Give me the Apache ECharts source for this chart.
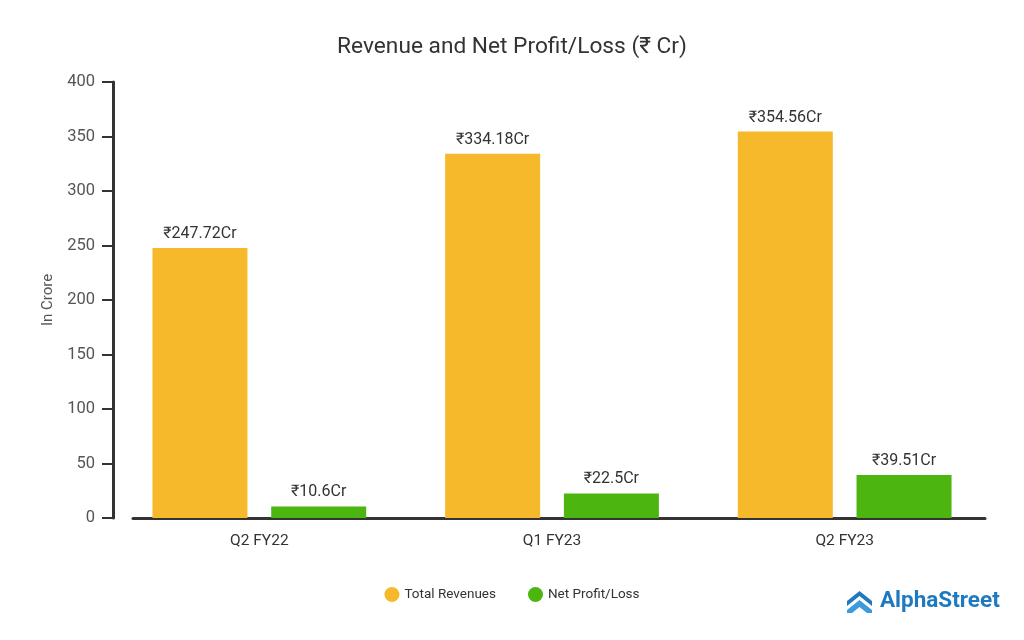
<!DOCTYPE html>
<html>
<head>
<meta charset="utf-8">
<script src="https://cdn.jsdelivr.net/npm/echarts@6/dist/echarts.min.js"></script>
<style>
html,body{margin:0;padding:0;background:#fff;}
#chart{width:1024px;height:640px;}
</style>
</head>
<body>
<div id="chart"></div>
<script>
const categories = ['Q2 FY22', 'Q1 FY23', 'Q2 FY23'];
const totalRevenues = [247.72, 334.18, 354.56];
const netProfit = [10.6, 22.5, 39.51];
const yTicks = { min: 0, max: 400, interval: 50 };
const titleText = 'Revenue and Net Profit/Loss (₹ Cr)';
const seriesNames = ['Total Revenues', 'Net Profit/Loss'];

const FONT = 'Roboto, "Noto Sans", "DejaVu Sans", sans-serif';
const chart = echarts.init(document.getElementById('chart'));

const labelCfg = {
  show: true,
  position: 'top',
  distance: 6,
  color: '#333',
  fontSize: 16,
  fontFamily: FONT,
  formatter: p => '₹' + p.value + 'Cr'
};

chart.setOption({
  backgroundColor: '#ffffff',
  animation: false,
  title: {
    text: titleText,
    left: 'center',
    top: 31,
    textStyle: { fontSize: 22.7, fontWeight: 'normal', color: '#333', fontFamily: FONT }
  },
  legend: {
    data: seriesNames,
    left: 'center',
    top: 582,
    icon: 'circle',
    itemWidth: 15,
    itemHeight: 15,
    itemGap: 32,
    textStyle: { fontSize: 13.5, color: '#333', fontFamily: FONT }
  },
  grid: [
    { left: 113, right: 33, top: 82, bottom: 122 },
    { left: 133, right: 39, top: 82, bottom: 122 }
  ],
  xAxis: [
    {
      type: 'category', gridIndex: 0, data: categories,
      axisLine: { show: false }, axisTick: { show: false },
      axisLabel: { color: '#333', fontSize: 15.5, fontFamily: FONT, margin: 15 }
    },
    {
      type: 'category', gridIndex: 1, data: categories,
      axisLine: { show: true, lineStyle: { color: '#333', width: 3 } },
      axisTick: { show: false }, axisLabel: { show: false }
    }
  ],
  yAxis: [
    {
      type: 'value', gridIndex: 0, min: yTicks.min, max: yTicks.max, interval: yTicks.interval,
      name: 'In Crore', nameLocation: 'middle', nameGap: 57, nameRotate: 90,
      nameTextStyle: { color: '#555', fontSize: 15, fontFamily: FONT },
      axisLine: { show: true, lineStyle: { color: '#333', width: 3 } },
      axisTick: { show: true, inside: false, length: 11, lineStyle: { color: '#333', width: 2 } },
      axisLabel: { color: '#555', fontSize: 16.5, fontFamily: FONT, margin: 18 },
      splitLine: { show: false }
    },
    {
      type: 'value', gridIndex: 1, min: yTicks.min, max: yTicks.max, show: false
    }
  ],
  series: [
    {
      name: seriesNames[0], type: 'bar', xAxisIndex: 0, yAxisIndex: 0,
      data: totalRevenues, barWidth: 95, barGap: '25%',
      itemStyle: { color: '#F6B92B' }, label: labelCfg
    },
    {
      name: seriesNames[1], type: 'bar', xAxisIndex: 0, yAxisIndex: 0,
      data: netProfit, barWidth: 95, barGap: '25%',
      itemStyle: { color: '#4CB50F' }, label: labelCfg
    }
  ],
  graphic: [
    {
      type: 'group', left: 847, top: 590,
      children: [
        { type: 'polygon', shape: { points: [[12.5,0],[25,10],[25,15],[12.5,5],[0,15],[0,10]] }, style: { fill: '#1E7AC0' } },
        { type: 'polygon', shape: { points: [[12.5,9],[25,19],[25,22],[20,22],[12.5,16],[5,22],[0,22],[0,19]] }, style: { fill: '#3D9BDB' } },
        { type: 'text', left: 33, top: -1, style: { text: 'AlphaStreet', fill: '#1E7AC0', fontSize: 22.5, fontWeight: 'bold', fontFamily: FONT } }
      ]
    }
  ]
});
</script>
</body>
</html>
